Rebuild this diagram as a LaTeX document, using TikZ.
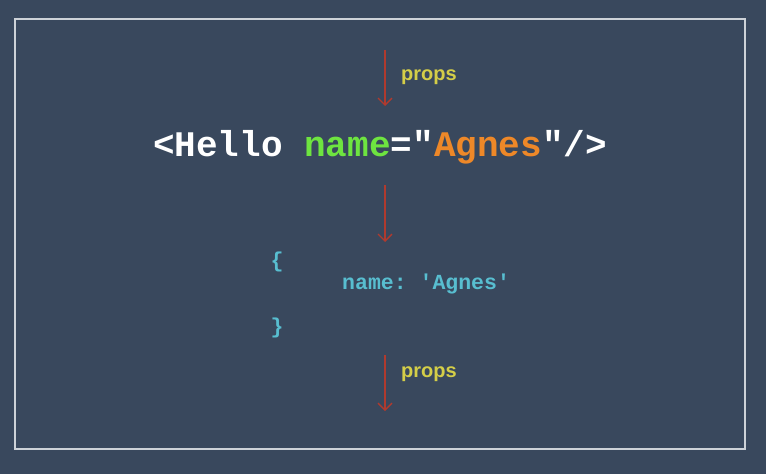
\documentclass[tikz,border=0pt]{standalone}
\usepackage{fontspec}
\setmainfont{Liberation Sans}
\setmonofont{Liberation Mono}
\usetikzlibrary{arrows.meta}
\definecolor{bg}{RGB}{57,72,93}
\definecolor{frame}{RGB}{205,210,216}
\definecolor{arr}{RGB}{176,58,46}
\definecolor{propc}{RGB}{212,206,72}
\definecolor{greenc}{RGB}{110,228,64}
\definecolor{orangec}{RGB}{238,136,40}
\definecolor{cyanc}{RGB}{88,190,208}
\tikzset{
  flow/.style={draw=arr, line width=1.3pt, -{Straight Barb[length=7pt,width=14pt]}},
  proplabel/.style={text=propc, font=\fontsize{20}{24}\selectfont\bfseries, anchor=west, inner sep=0pt},
  codemain/.style={font=\fontsize{36}{40}\selectfont\ttfamily\bfseries, inner sep=0pt},
  objtext/.style={text=cyanc, font=\fontsize{21.5}{24}\selectfont\ttfamily\bfseries, inner sep=0pt}
}
\begin{document}
\begin{tikzpicture}[x=1pt,y=-1pt]
\fill[bg] (0,0) rectangle (766,474);
\useasboundingbox (0,0) rectangle (766,474);
\draw[frame, line width=2pt] (15,19) rectangle (745,449);
\coordinate (a1s) at (385,50);
\coordinate (a1e) at (385,106);
\draw[flow] (a1s) -- (a1e);
\node[proplabel] (p1) at (401,77) {props};
\node[codemain, text=white] (code) at (380,147) {<Hello \textcolor{greenc}{name}="\textcolor{orangec}{Agnes}"/>};
\coordinate (a2s) at (385,185);
\coordinate (a2e) at (385,242);
\draw[flow] (a2s) -- (a2e);
\node[objtext] (ob) at (277,262) {\{};
\node[objtext, anchor=west] (kv) at (342,284) {name: 'Agnes'};
\node[objtext] (cb) at (277,328) {\}};
\coordinate (a3s) at (385,355);
\coordinate (a3e) at (385,411);
\draw[flow] (a3s) -- (a3e);
\node[proplabel] (p2) at (401,374) {props};
\end{tikzpicture}
\end{document}
